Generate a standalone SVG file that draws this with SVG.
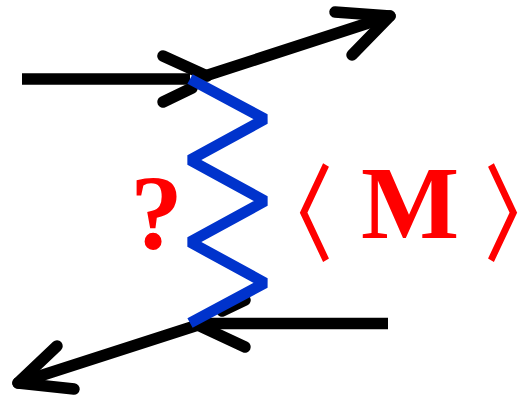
<svg xmlns="http://www.w3.org/2000/svg" width="528" height="403" viewBox="0 0 528 403">
<style>
.blk{fill:none;stroke:#000;stroke-width:11.5;stroke-linecap:round;stroke-linejoin:round}
.blk2{fill:none;stroke:#000;stroke-width:11.5;stroke-linecap:butt}
.zig{fill:none;stroke:#0033cc;stroke-width:11;stroke-linejoin:bevel;stroke-linecap:butt}
.lbl{fill:#ff0000;font-family:"Liberation Serif",serif;font-weight:bold}
.br{fill:#ff0000;stroke:#ff0000;stroke-width:3;font-family:"DejaVu Sans",sans-serif;font-size:107px}
</style>
<rect width="528" height="403" fill="#fff"/>
<g id="connectors">
<line class="blk2" x1="22" y1="79" x2="190" y2="79"/>
<polyline class="blk" points="163,56 207,76"/>
<polyline class="blk" points="163,102 192,88"/>
<line class="blk" x1="205" y1="76" x2="390" y2="16"/>
<polyline class="blk" points="335,12 390,16 352,55"/>
<line class="blk2" x1="388" y1="323.5" x2="200" y2="323.5"/>
<polyline class="blk" points="245,300 222,311"/>
<polyline class="blk" points="245,347 200,326"/>
<line class="blk" x1="198" y1="325" x2="18" y2="383"/>
<polyline class="blk" points="57,346 18,383 74,389"/>
</g>
<g id="spring">
<polyline class="zig" points="190,79 265,119 190,160 265,201 190,242 265,283 190,323"/>
</g>
<g id="labels">
<text class="lbl" x="156.5" y="249" font-size="105" text-anchor="middle">?</text>
<text class="br" x="234" y="250.5">〈</text>
<text class="lbl" x="410" y="238" font-size="104" text-anchor="middle">M</text>
<text class="br" x="476" y="250.5">〉</text>
</g>
</svg>
